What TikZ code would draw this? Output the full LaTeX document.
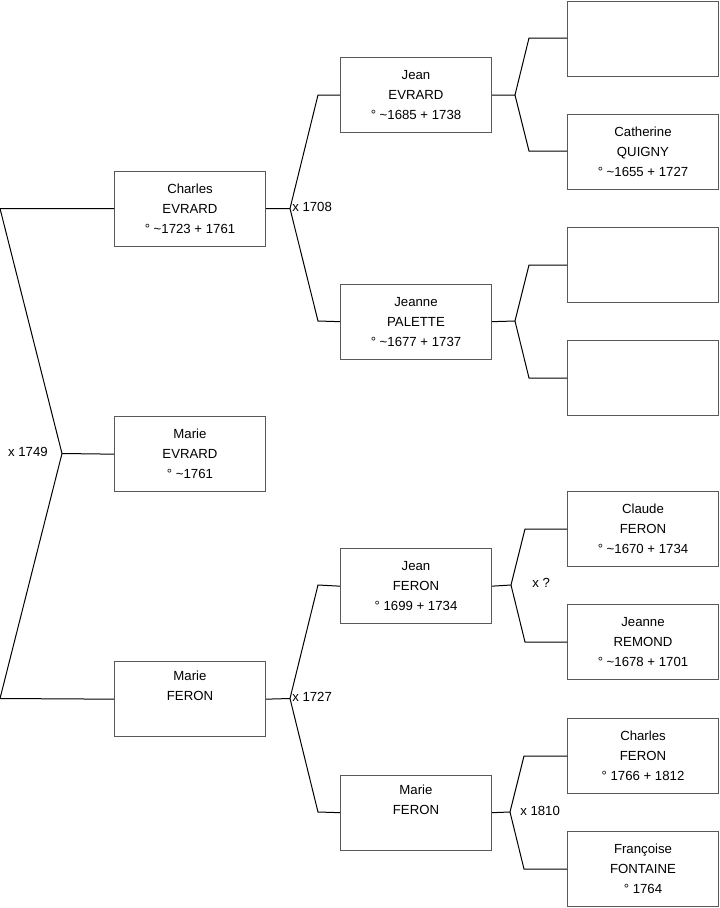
\documentclass[tikz,border=0pt]{standalone}
\usepackage{fontspec}
\setmainfont{Liberation Sans}
\begin{document}
\begin{tikzpicture}[x=0.75pt,y=-0.75pt,
  person/.style={draw=black!65,line width=0.75pt,fill=white,anchor=north west,
    minimum width=113.25pt,minimum height=56.5pt,inner sep=0pt,
    align=center,font=\fontsize{9.9}{15}\selectfont},
  link/.style={draw=black,line width=0.75pt},
  lbl/.style={font=\fontsize{9.9}{11}\selectfont,inner sep=0pt}]
\useasboundingbox (0,0) rectangle (719,908);
% column 1
\node[person] (cE) at (114,170.5) {Charles\\EVRARD\\° \textasciitilde1723 + 1761};
\node[person] (mE) at (114,416) {Marie\\EVRARD\\° \textasciitilde1761};
\node[person] (mF) at (114,661) {Marie\\FERON\\\strut};
% column 2
\node[person] (jE) at (340,57) {Jean\\EVRARD\\° \textasciitilde1685 + 1738};
\node[person] (jP) at (340,283.5) {Jeanne\\PALETTE\\° \textasciitilde1677 + 1737};
\node[person] (jF) at (340,548) {Jean\\FERON\\° 1699 + 1734};
\node[person] (mF2) at (340,774.5) {Marie\\FERON\\\strut};
% column 3
\node[person] (r1) at (567,0.5) {};
\node[person] (r2) at (567,113.5) {Catherine\\QUIGNY\\° \textasciitilde1655 + 1727};
\node[person] (r3) at (567,227) {};
\node[person] (r4) at (567,340) {};
\node[person] (r5) at (567,491) {Claude\\FERON\\° \textasciitilde1670 + 1734};
\node[person] (r6) at (567,604) {Jeanne\\REMOND\\° \textasciitilde1678 + 1701};
\node[person] (r7) at (567,718) {Charles\\FERON\\° 1766 + 1812};
\node[person] (r8) at (567,831) {Françoise\\FONTAINE\\° 1764};
% junction coordinates
\coordinate (a0) at (0,208.5);
\coordinate (aJ) at (62,453.5);
\coordinate (a1) at (0,698.5);
\coordinate (bJ) at (290,208.5);
\coordinate (b0) at (318,95);
\coordinate (b1) at (318,321);
\coordinate (cJ) at (290,698.5);
\coordinate (c0) at (318,585);
\coordinate (c1) at (318,812);
\coordinate (dJ) at (515,95);
\coordinate (d0) at (529,38);
\coordinate (d1) at (529,151);
\coordinate (eJ) at (515,321);
\coordinate (e0) at (529,265);
\coordinate (e1) at (529,378);
\coordinate (fJ) at (511,585);
\coordinate (f0) at (525,529);
\coordinate (f1) at (525,642);
\coordinate (gJ) at (510,812);
\coordinate (g0) at (524,756);
\coordinate (g1) at (524,869);
% connectors
\draw[link] (cE.west) -- (a0) -- (aJ) -- (a1) -- (mF.west);
\draw[link] (aJ) -- (mE.west);
\draw[link] (cE.east) -- (bJ);
\draw[link] (jE.west) -- (b0) -- (bJ) -- (b1) -- (jP.west);
\draw[link] (mF.east) -- (cJ);
\draw[link] (jF.west) -- (c0) -- (cJ) -- (c1) -- (mF2.west);
\draw[link] (jE.east) -- (dJ);
\draw[link] (r1.west |- d0) -- (d0) -- (dJ) -- (d1) -- (r2.west |- d1);
\draw[link] (jP.east) -- (eJ);
\draw[link] (r3.west |- e0) -- (e0) -- (eJ) -- (e1) -- (r4.west |- e1);
\draw[link] (jF.east) -- (fJ);
\draw[link] (r5.west |- f0) -- (f0) -- (fJ) -- (f1) -- (r6.west |- f1);
\draw[link] (mF2.east) -- (gJ);
\draw[link] (r7.west |- g0) -- (g0) -- (gJ) -- (g1) -- (r8.west |- g1);
% labels
\node[lbl,anchor=east] (l1) at (48,452) {x 1749};
\node[lbl,anchor=west] (l2) at (292,207) {x 1708};
\node[lbl,anchor=west] (l3) at (292,697) {x 1727};
\node[lbl,anchor=west] (l4) at (532,583) {x ?};
\node[lbl,anchor=west] (l5) at (520,811) {x 1810};
\end{tikzpicture}
\end{document}
